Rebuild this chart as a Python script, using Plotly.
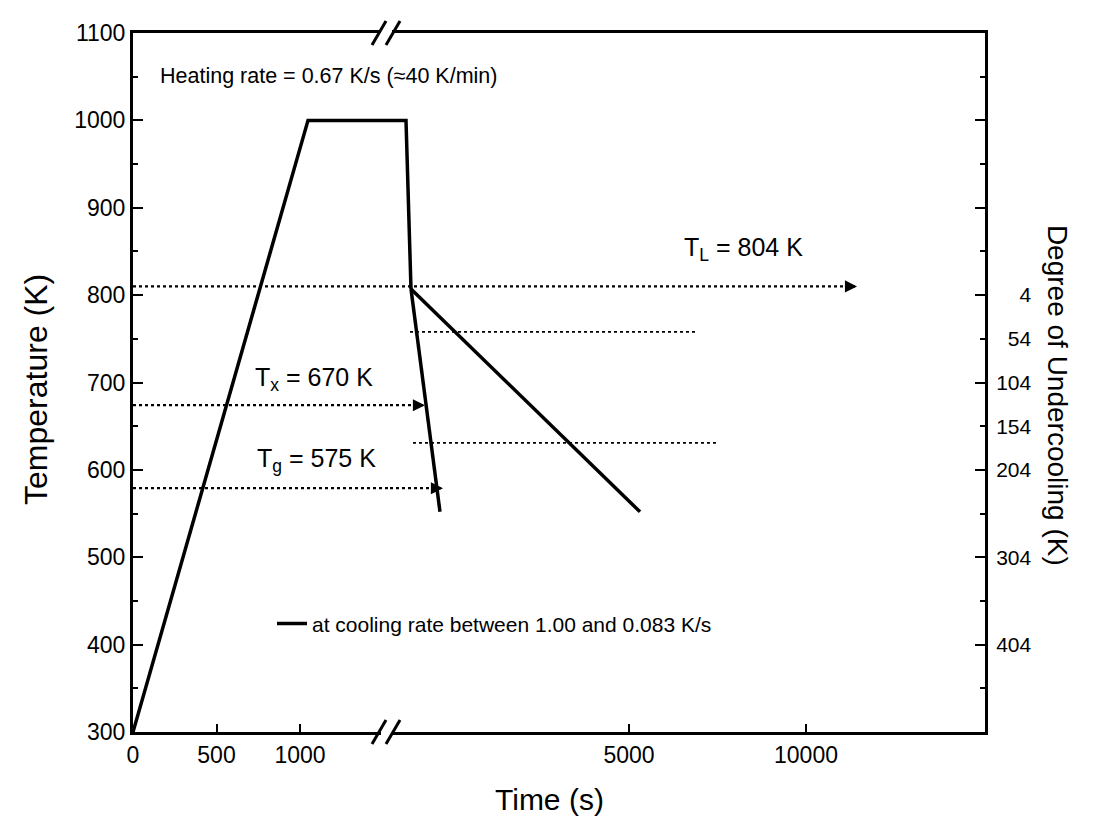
import plotly.graph_objects as go

# ---------------- data ----------------
# Broken time axis: segment 1 (0 .. ~1540 s), segment 2 (after the // break)
seg1_range = [0, 1539]
seg2_range = [-1751, 15056]

# heating ramp + start of hold (segment 1)
heat_time = [0, 1048, 1539]
heat_temp = [300, 1000, 1000]
# end of hold and drop to liquidus (segment 2)
hold_time = [-1751, -1299, -1158]
hold_temp = [1000, 1000, 807]
# fast cooling (1.00 K/s)
fast_time = [-1158, -339]
fast_temp = [807, 552]
# slow cooling (0.083 K/s)
slow_time = [-1158, 5311]
slow_temp = [807, 552]

# characteristic temperature arrows (drawn level, end time in segment 2)
ref_names = ["TL", "Tx", "Tg"]
ref_temp = [810, 674, 579]
ref_end_time = [11441, -763, -254]

# undercooling guide lines (segment 2)
under_temp = [758, 631]
under_start = [-1186, -1102]
under_end = [6949, 7514]

# tick labels
seg1_ticks = [0, 500, 1000]
seg1_text = ["0", "500", "1000"]
seg2_ticks = [5000, 10000]
seg2_text = ["5000", "10000"]
liquidus_label = 804
undercooling_ticks = [4, 54, 104, 154, 204, 304, 404]

FONT = "Arial, Liberation Sans, sans-serif"
BLACK = "black"
LW = 3.5

# page body has an 8px margin: shift figure so the plot area lands where the reference has it
OFF = 8
PL, PR, PT, PB = 133, 985, 27, 732   # plot area in page pixels
W, H = 1094 - OFF, 824 - OFF
PW, PH = PR - PL, PB - PT


def px(x):
    return (x - PL) / PW


def py(y):
    return (PB - y) / PH


fig = go.Figure()

# solid thermal history
fig.add_trace(go.Scatter(x=heat_time, y=heat_temp, mode="lines", xaxis="x", yaxis="y",
                         line=dict(color=BLACK, width=LW), showlegend=False))
fig.add_trace(go.Scatter(x=hold_time, y=hold_temp, mode="lines", xaxis="x2", yaxis="y",
                         line=dict(color=BLACK, width=LW), showlegend=False))
fig.add_trace(go.Scatter(x=fast_time, y=fast_temp, mode="lines", xaxis="x2", yaxis="y",
                         line=dict(color=BLACK, width=LW), showlegend=False))
fig.add_trace(go.Scatter(x=slow_time, y=slow_temp, mode="lines", xaxis="x2", yaxis="y",
                         line=dict(color=BLACK, width=LW),
                         name="at cooling rate between 1.00 and 0.083 K/s", showlegend=True))

# dotted reference lines with arrows
for name, t, te in zip(ref_names, ref_temp, ref_end_time):
    fig.add_trace(go.Scatter(x=[seg1_range[0], seg1_range[1]], y=[t, t], mode="lines",
                             xaxis="x", yaxis="y", line=dict(color=BLACK, width=2.2, dash="dot"),
                             showlegend=False))
    fig.add_trace(go.Scatter(x=[seg2_range[0], te], y=[t, t], mode="lines",
                             xaxis="x2", yaxis="y", line=dict(color=BLACK, width=2.2, dash="dot"),
                             showlegend=False))
    fig.add_annotation(x=te, y=t, xref="x2", yref="y", text="", showarrow=True,
                       ax=-12, ay=0, arrowhead=2, arrowsize=1.1, arrowwidth=2.2,
                       arrowcolor=BLACK)

# undercooling guides
for t, s, e in zip(under_temp, under_start, under_end):
    fig.add_trace(go.Scatter(x=[s, e], y=[t, t], mode="lines", xaxis="x2", yaxis="y2",
                             line=dict(color=BLACK, width=1.8, dash="dot"), showlegend=False))

split = px(390)

tickfont = dict(family=FONT, size=23, color=BLACK)
xcommon = dict(showline=True, linecolor=BLACK, linewidth=3, mirror=True,
               ticks="inside", tickcolor=BLACK, tickwidth=2, showgrid=False,
               zeroline=False, tickfont=tickfont, tickmode="array", ticklen=8)

# right axis: a tick every 50 K, labelled with the degree of undercooling
right_vals = list(range(350, 1100, 50))
right_text = []
for v in right_vals:
    u = liquidus_label - v
    right_text.append(("\u2007" * (3 - len(str(u)))) + str(u) if u in undercooling_ticks else "")

fig.update_layout(
    width=W, height=H,
    margin=dict(l=PL - OFF, r=W - (PR - OFF), t=PT - OFF, b=H - (PB - OFF)),
    paper_bgcolor="white", plot_bgcolor="white",
    font=dict(family=FONT, color=BLACK),
    xaxis=dict(domain=[0, split], range=seg1_range, anchor="y",
               tickvals=seg1_ticks, ticktext=seg1_text, **xcommon),
    xaxis2=dict(domain=[split, 1], range=seg2_range, anchor="y",
                tickvals=seg2_ticks, ticktext=seg2_text, **xcommon),
    yaxis=dict(range=[300, 1100], anchor="x", dtick=100, tick0=300, ticklen=10,
               showline=True, linecolor=BLACK, linewidth=3, mirror=False,
               ticks="inside", tickcolor=BLACK, tickwidth=2, showgrid=False, zeroline=False,
               tickfont=tickfont,
               minor=dict(dtick=50, ticklen=5, ticks="inside", tickcolor=BLACK, tickwidth=2)),
    yaxis2=dict(range=[300, 1100], overlaying="y", anchor="x2", side="right",
                showline=True, linecolor=BLACK, linewidth=3, showgrid=False, zeroline=False,
                ticks="inside", ticklen=5, tickwidth=2, tickcolor=BLACK,
                tickmode="array", tickvals=right_vals, ticktext=right_text,
                minor=dict(tickmode="array", tickvals=list(range(400, 1100, 100)),
                           ticklen=10, ticks="inside", tickcolor=BLACK, tickwidth=2),
                ticklabelstandoff=4,
                tickfont=dict(family=FONT, size=21, color=BLACK)),
    legend=dict(x=px(272), y=py(623), xanchor="left", yanchor="middle",
                bgcolor="rgba(0,0,0,0)", borderwidth=0,
                font=dict(family=FONT, size=21, color=BLACK)),
)


def label(text, x, y, size, xanchor="center", angle=0):
    fig.add_annotation(text=text, xref="paper", yref="paper", x=px(x), y=py(y),
                       xanchor=xanchor, yanchor="middle", showarrow=False, textangle=angle,
                       font=dict(family=FONT, size=size, color=BLACK))


# axis titles
label("Time (s)", 549, 800, 30)
label("Temperature (K)", 36, 387, 32, angle=-90)
label("Degree of Undercooling (K)", 1057, 392, 28, angle=90)

# text labels
label("Heating rate = 0.67 K/s (\u224840 K/min)", 158, 70, 21.5, xanchor="left")
label("T<sub>L</sub> = 804 K", 682, 245, 25, xanchor="left")
label("T<sub>x</sub> = 670 K", 253, 376, 25, xanchor="left")
label("T<sub>g</sub> = 575 K", 255, 458, 25, xanchor="left")

# axis-break marks (// on bottom and top spines)
for yp in (0, 1):
    fig.add_shape(type="rect", xref="paper", yref="paper",
                  x0=px(381), x1=px(392), y0=yp - 5 / PH, y1=yp + 5 / PH,
                  fillcolor="white", line=dict(width=0), layer="above")
    for cx in (379, 393):
        fig.add_shape(type="line", xref="paper", yref="paper",
                      x0=px(cx - 7), x1=px(cx + 7), y0=yp - 12 / PH, y1=yp + 12 / PH,
                      line=dict(color=BLACK, width=3), layer="above")

fig.write_html("out.html")
